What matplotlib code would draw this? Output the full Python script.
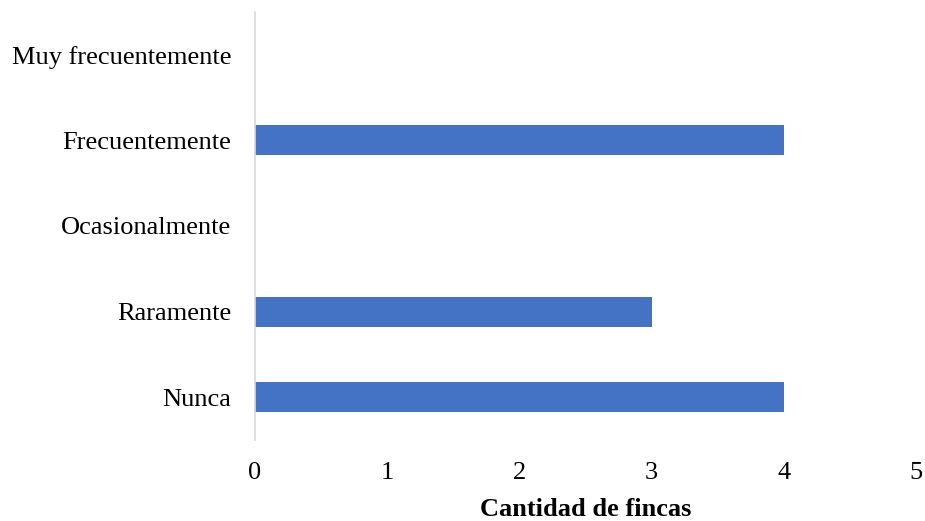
import matplotlib
import matplotlib.pyplot as plt

matplotlib.use("Agg")

categories = ["Nunca", "Raramente", "Ocasionalmente", "Frecuentemente", "Muy frecuentemente"]
values = [4, 3, 0, 4, 0]
xticks = [0, 1, 2, 3, 4, 5]

plt.rcParams["font.family"] = ["Liberation Serif", "DejaVu Serif"]

fig = plt.figure(figsize=(9.25, 5.21), dpi=100)
ax = fig.add_axes([0.2757, 0.1555, 0.7145, 0.8215])

ax.barh(categories, values, height=0.35, color="#4472C4")

ax.set_xlim(0, 5)
ax.set_ylim(-0.5, 4.5)
ax.set_xticks(xticks)
ax.tick_params(axis="both", length=0, labelsize=19)
ax.tick_params(axis="x", pad=16)
ax.tick_params(axis="y", pad=17)

for side in ["top", "right", "bottom"]:
    ax.spines[side].set_visible(False)
ax.spines["left"].set_color("#D9D9D9")
ax.spines["left"].set_linewidth(1.2)

ax.set_xlabel("Cantidad de fincas", fontsize=19, fontweight="bold", labelpad=10)

fig.savefig("out.png", dpi=100)
